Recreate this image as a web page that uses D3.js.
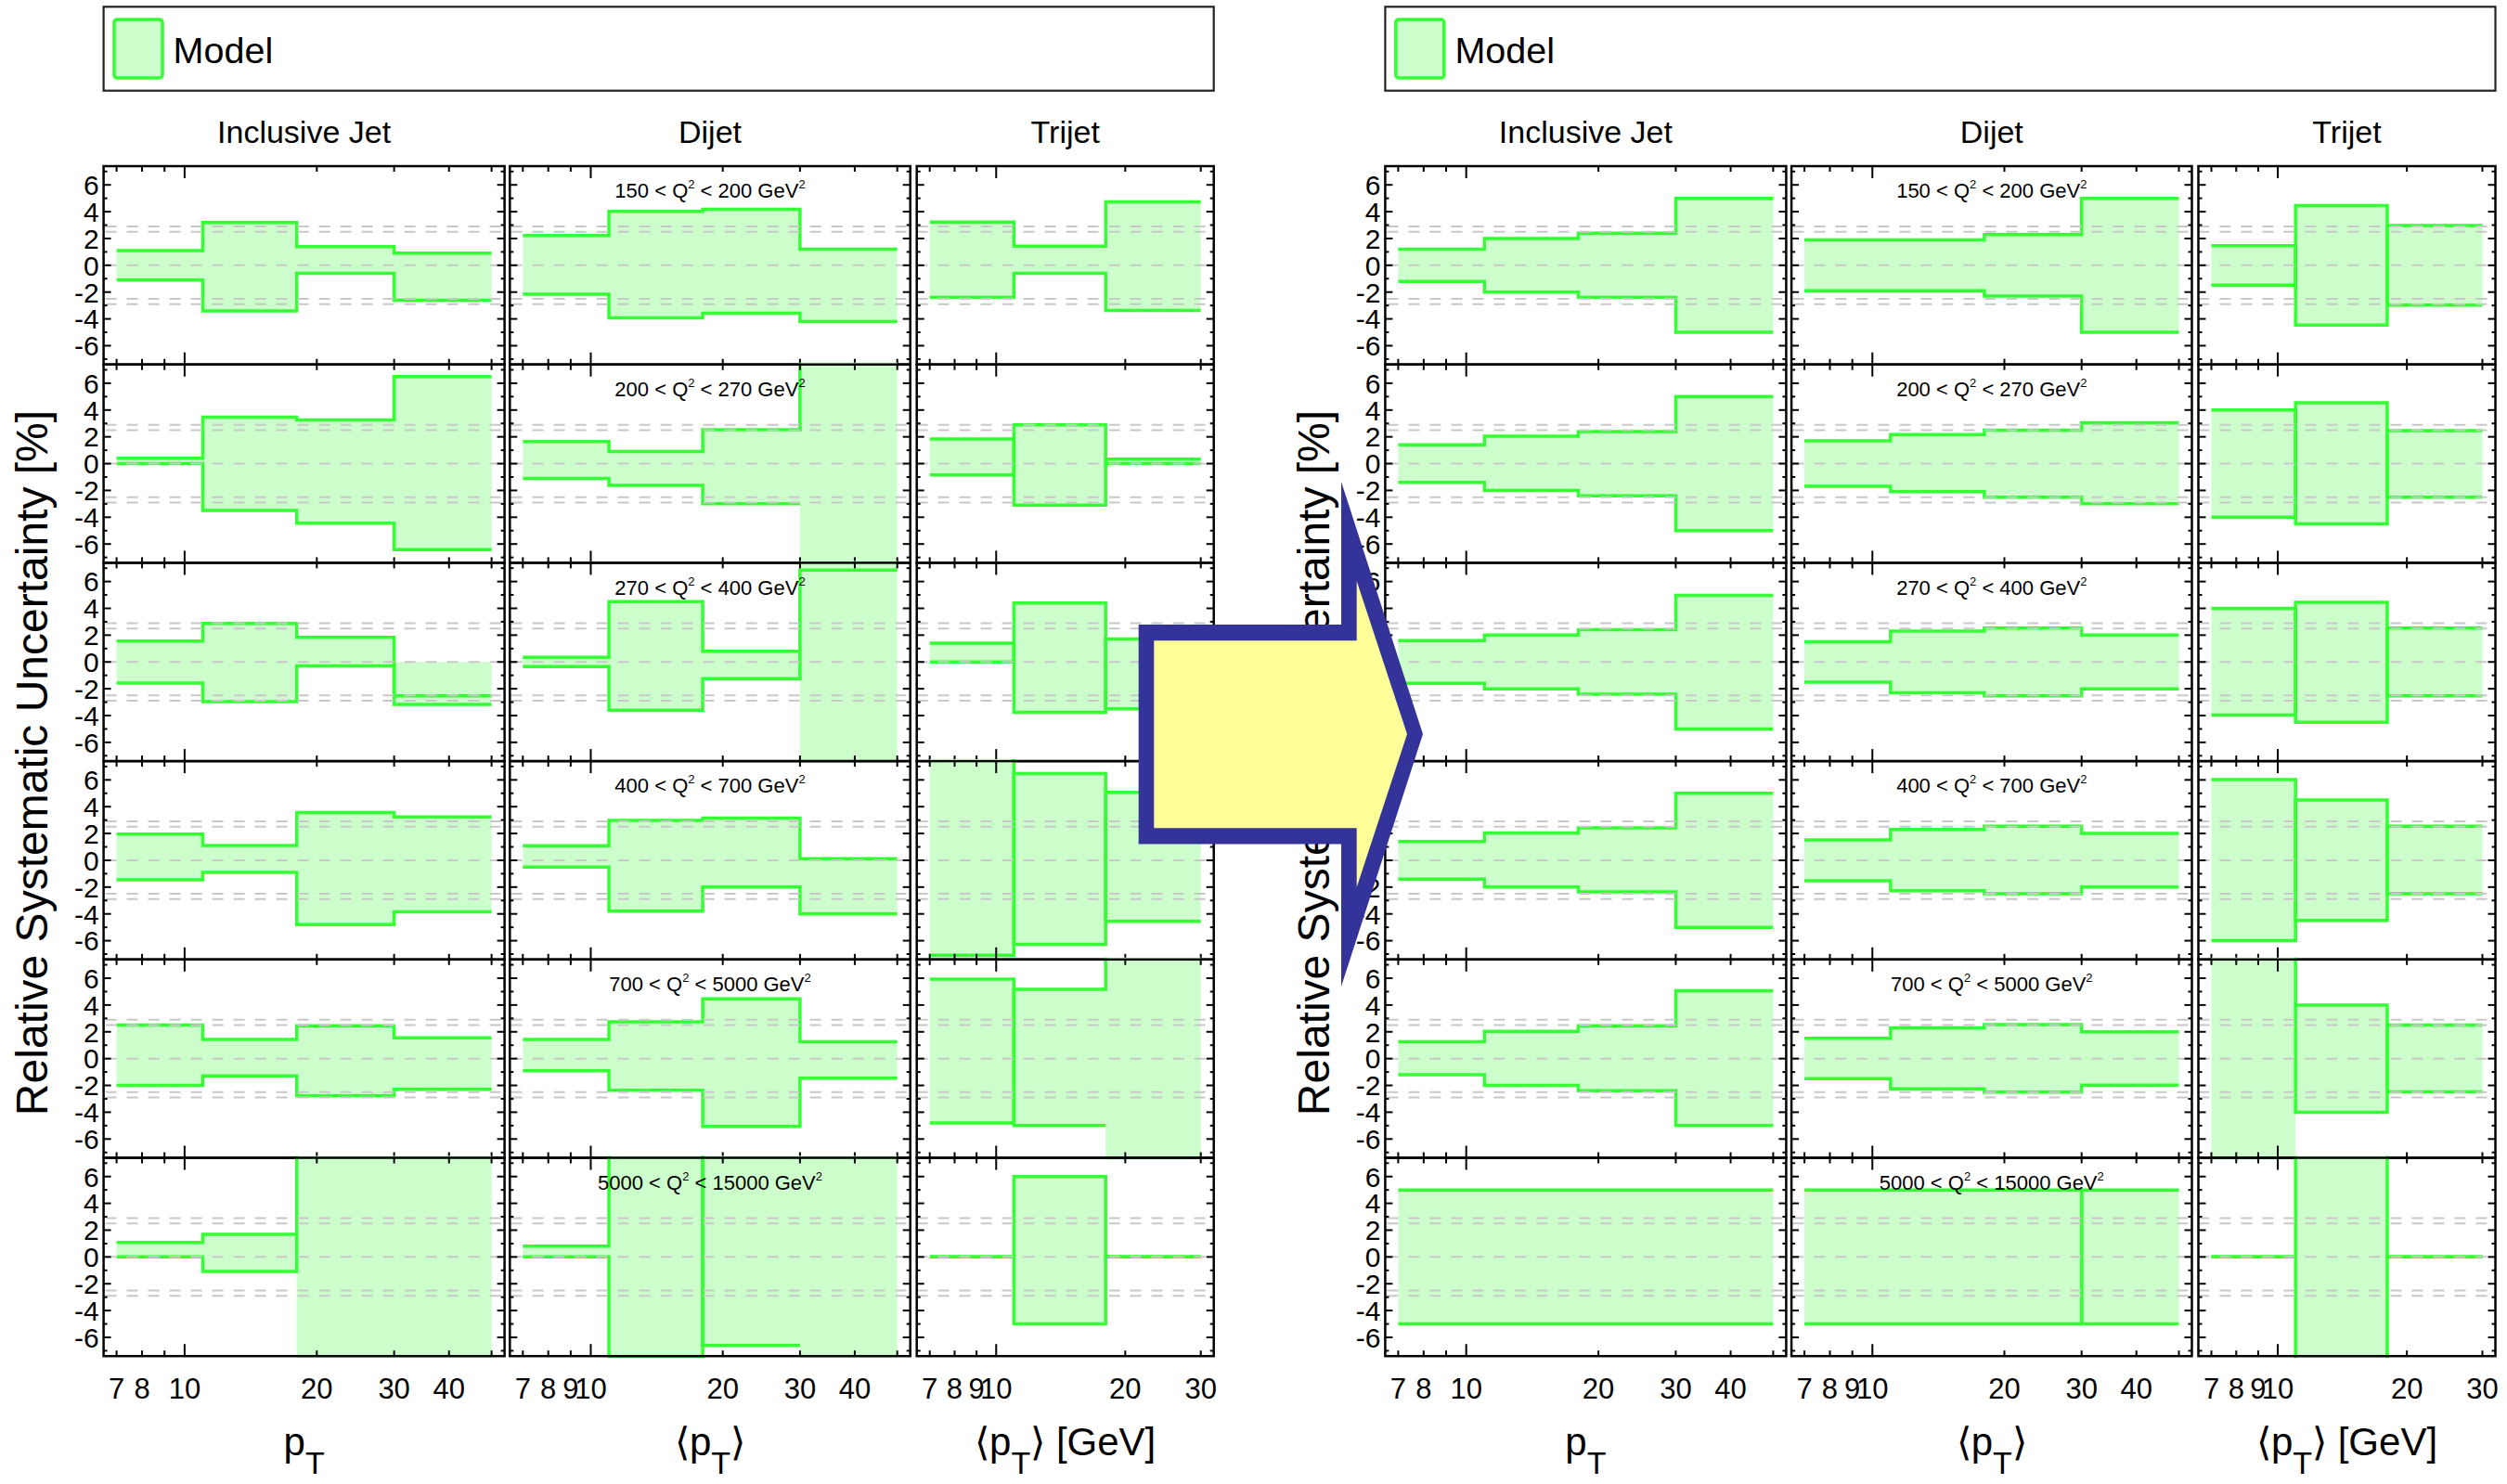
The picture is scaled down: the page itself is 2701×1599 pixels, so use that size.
<!DOCTYPE html>
<html>
<head>
<meta charset="utf-8">
<script src="https://cdn.jsdelivr.net/npm/d3@7"></script>
<style>
  html, body { margin: 0; padding: 0; background: #fff; overflow: hidden; }
</style>
</head>
<body>
<div id="chart"></div>
<script>
// ---- data ----
var columns = ["Inclusive Jet", "Dijet", "Trijet"];
var binEdges = [[7, 11, 18, 30, 50], [7, 11, 18, 30, 50], [7, 11, 18, 30]];
var xTickValues = [[7, 8, 9, 10, 20, 30, 40, 50], [7, 8, 9, 10, 20, 30, 40, 50], [7, 8, 9, 10, 20, 30]];
var xTickLabels = [[7, 8, 10, 20, 30, 40], [7, 8, 9, 10, 20, 30, 40], [7, 8, 9, 10, 20, 30]];
var yTickLabels = [-6, -4, -2, 0, 2, 4, 6];
var refLines = [-2.9, -2.5, 0, 2.5, 2.9];
var q2Low = ["150", "200", "270", "400", "700", "5000"];
var q2High = ["200", "270", "400", "700", "5000", "15000"];

// up / down variations in %, one row per Q2 bin; 20 = off scale, null = not available
var beforeInclA = [
  [1.1, 3.2, 1.4, 0.9], [0.4, 3.46, 3.26, 6.5], [1.55, 2.87, 1.84, -2.53],
  [1.95, 1.1, 3.56, 3.24], [2.5, 1.43, 2.45, 1.55], [0, -1.08, 20, 20]];
var beforeInclB = [
  [-1.1, -3.4, -0.6, -2.6], [0, -3.49, -4.44, -6.42], [-1.58, -2.96, -0.3, -3.16],
  [-1.46, -0.9, -4.8, -3.85], [-2.0, -1.28, -2.77, -2.3], [1.08, 1.69, null, null]];
var beforeDijetA = [
  [2.23, 4.02, 4.18, 1.2], [1.64, 0.9, 2.53, 20], [-0.34, -3.6, -1.24, 6.85],
  [1.08, 2.97, 3.15, 0.12], [1.43, 2.74, 4.46, 1.25], [0.8, 20, -6.6, null]];
var beforeDijetB = [
  [-2.15, -3.92, -3.58, -4.2], [-1.1, -1.62, -3.0, null], [0.34, 4.5, 0.8, null],
  [-0.5, -3.8, -2.0, -4.0], [-0.9, -2.36, -5.07, -1.46], [0, -7.45, 20, 20]];
var beforeTrijetA = [
  [3.23, 1.43, 4.74], [1.84, -3.1, 0.33], [1.4, -3.76, 1.72],
  [20, -6.27, 5.07], [5.93, -4.99, null], [0, 6.0, 0]];
var beforeTrijetB = [
  [-2.4, -0.6, -3.37], [-0.85, 2.9, 0], [0, 4.4, -3.5],
  [-7.08, 6.47, -4.55], [-4.8, 5.17, 20], [0, -5.0, 0]];

var afterInclA = [
  [1.2, 2.0, 2.4, 5.0], [1.4, 2.04, 2.4, 5.0], [1.6, 2.0, 2.4, 4.97],
  [1.4, 2.04, 2.42, 5.0], [1.25, 2.04, 2.45, 5.07], [5.0, 5.0, 5.0, 5.0]];
var afterInclB = [
  [-1.2, -2.0, -2.4, -5.0], [-1.4, -2.0, -2.4, -5.0], [-1.6, -2.0, -2.4, -5.0],
  [-1.4, -2.0, -2.36, -5.0], [-1.2, -2.0, -2.4, -5.0], [-5.0, -5.0, -5.0, -5.0]];
var afterDijetA = [
  [1.9, 1.9, 2.3, 5.0], [1.7, 2.16, 2.5, 3.05], [1.5, 2.3, 2.53, 2.0],
  [1.52, 2.3, 2.54, 2.0], [1.52, 2.3, 2.54, 2.0], [5.0, 5.0, 5.0, -5.0]];
var afterDijetB = [
  [-1.9, -1.9, -2.3, -5.0], [-1.7, -2.1, -2.5, -3.0], [-1.5, -2.3, -2.53, -2.0],
  [-1.52, -2.28, -2.5, -2.0], [-1.5, -2.25, -2.5, -1.98], [-5.0, -5.0, -5.0, 5.0]];
var afterTrijetA = [
  [1.46, -4.46, 2.97], [4.0, -4.5, 2.47], [4.0, -4.5, 2.53],
  [6.03, -4.49, 2.54], [20, -4.0, 2.51], [0, 20, 0]];
var afterTrijetB = [
  [-1.49, 4.46, -2.97], [-4.0, 4.54, -2.5], [-3.97, 4.45, -2.53],
  [-6.0, 4.49, -2.5], [null, 4.0, -2.48], [0, -20, 0]];

// ---- layout ----
var W = 2701, H = 1599;
var halfOffset = [0, 1380.8];
var halfSets = [
  [[beforeInclA, beforeInclB], [beforeDijetA, beforeDijetB], [beforeTrijetA, beforeTrijetB]],
  [[afterInclA, afterInclB], [afterDijetA, afterDijetB], [afterTrijetA, afterTrijetB]]
];
var colLeft = [111.6, 549.3, 987.7];
var colWidth = [432, 431.4, 320];
var rowTop = 179, rowH = 213.7;
var xPad = 14;
var yDomain = [-7.4, 7.4], yClamp = 7.8;
var fillCol = "#ccffcc", lineCol = "#33ff33";
var font = "'Liberation Sans', Arial, Helvetica, sans-serif";

var svg = d3.select("#chart").append("svg")
  .attr("width", W).attr("height", H)
  .style("font-family", font);

var y = d3.scaleLinear().domain(yDomain).range([rowH, 0]);
var cv = function(v) { return Math.max(-yClamp, Math.min(yClamp, v)); };

halfOffset.forEach(function(dx, h) {
  var half = svg.append("g").attr("transform", "translate(" + dx + ",0)");
  var rightEdge = colLeft[2] + colWidth[2];

  /* legend */
  half.append("rect").attr("x", colLeft[0]).attr("y", 7.3)
    .attr("width", rightEdge - colLeft[0]).attr("height", 90.4)
    .attr("fill", "none").attr("stroke", "#222").attr("stroke-width", 2.2);
  half.append("rect").attr("x", 123).attr("y", 21).attr("width", 52).attr("height", 63).attr("rx", 3)
    .attr("fill", fillCol).attr("stroke", lineCol).attr("stroke-width", 3.5);
  half.append("text").attr("x", 186.6).attr("y", 67.7).attr("font-size", 39.5).text("Model");

  /* column titles */
  columns.forEach(function(c, ci) {
    half.append("text").attr("x", colLeft[ci] + colWidth[ci] / 2).attr("y", 154)
      .attr("text-anchor", "middle").attr("font-size", 34).text(c);
  });

  /* y title */
  half.append("text").attr("transform", "translate(51,822) rotate(-90)")
    .attr("text-anchor", "middle").attr("font-size", 48)
    .text("Relative Systematic Uncertainty [%]");

  for (var r = 0; r < 6; r++) {
    var ry = rowTop + r * rowH;
    var rowG = half.append("g").attr("transform", "translate(0," + ry + ")");
    var scales = [];

    columns.forEach(function(c, ci) {
      var w = colWidth[ci], edges = binEdges[ci];
      var A = halfSets[h][ci][0][r], B = halfSets[h][ci][1][r];
      var x = d3.scaleLog().domain([edges[0], edges[edges.length - 1]]).range([xPad, w - xPad]);
      scales.push(x);
      var g = rowG.append("g").attr("transform", "translate(" + colLeft[ci] + ",0)");
      var clipId = "clip-" + h + "-" + ci + "-" + r;
      g.append("clipPath").attr("id", clipId).append("rect")
        .attr("x", 0).attr("y", -2).attr("width", w).attr("height", rowH + 4);
      var body = g.append("g").attr("clip-path", "url(#" + clipId + ")");

      /* band */
      var band = [];
      A.forEach(function(a, i) {
        var b = B[i], lo, hi;
        if (a == null || b == null) { lo = -yClamp; hi = yClamp; }
        else { lo = Math.min(a, b, 0); hi = Math.max(a, b, 0); }
        band.push({e: edges[i], lo: cv(lo), hi: cv(hi)}, {e: edges[i + 1], lo: cv(lo), hi: cv(hi)});
      });
      body.append("path").datum(band)
        .attr("d", d3.area().x(function(d) { return x(d.e); })
          .y0(function(d) { return y(d.lo); }).y1(function(d) { return y(d.hi); }))
        .attr("fill", fillCol);

      /* variation lines */
      [A, B].forEach(function(vals) {
        var pts = [];
        vals.forEach(function(v, i) { pts.push({e: edges[i], v: v}, {e: edges[i + 1], v: v}); });
        body.append("path").datum(pts)
          .attr("d", d3.line().defined(function(d) { return d.v != null; })
            .x(function(d) { return x(d.e); }).y(function(d) { return y(cv(d.v)); }))
          .attr("fill", "none").attr("stroke", lineCol).attr("stroke-width", 3.5)
          .attr("stroke-linejoin", "miter");
      });
    });

    /* dashed reference lines across the row */
    rowG.selectAll(".ref").data(refLines).enter().append("line")
      .attr("x1", colLeft[0] + 2).attr("x2", rightEdge)
      .attr("y1", function(d) { return y(d); }).attr("y2", function(d) { return y(d); })
      .attr("stroke", "#c8c8c8").attr("stroke-width", 2).attr("stroke-dasharray", "12,11");

    columns.forEach(function(c, ci) {
      var w = colWidth[ci], x = scales[ci];
      var g = rowG.append("g").attr("transform", "translate(" + colLeft[ci] + ",0)");
      g.append("rect").attr("width", w).attr("height", rowH)
        .attr("fill", "none").attr("stroke", "#000").attr("stroke-width", 2.5);

      var yt = d3.range(-7, 8);
      g.selectAll(".yl").data(yt).enter().append("line")
        .attr("x1", 0).attr("x2", function(d) { return d % 2 === 0 ? 8 : 4; })
        .attr("y1", y).attr("y2", y).attr("stroke", "#000").attr("stroke-width", 2);
      g.selectAll(".yr").data(yt).enter().append("line")
        .attr("x1", w).attr("x2", function(d) { return d % 2 === 0 ? w - 8 : w - 4; })
        .attr("y1", y).attr("y2", y).attr("stroke", "#000").attr("stroke-width", 2);
      g.selectAll(".xt").data(xTickValues[ci]).enter().append("line")
        .attr("x1", x).attr("x2", x).attr("y1", 0)
        .attr("y2", function(d) { return d === 10 ? 13 : 6; })
        .attr("stroke", "#000").attr("stroke-width", 2);
      g.selectAll(".xb").data(xTickValues[ci]).enter().append("line")
        .attr("x1", x).attr("x2", x).attr("y1", rowH)
        .attr("y2", function(d) { return d === 10 ? rowH - 13 : rowH - 6; })
        .attr("stroke", "#000").attr("stroke-width", 2);

      if (ci === 0) {
        g.selectAll(".ylab").data(yTickLabels).enter().append("text")
          .attr("x", -5).attr("y", y).attr("dy", "0.36em")
          .attr("text-anchor", "end").attr("font-size", 30)
          .text(function(d) { return d; });
      }
      if (ci === 1) {
        var t = g.append("text").attr("x", w / 2).attr("y", 34.3)
          .attr("text-anchor", "middle").attr("font-size", 22);
        t.append("tspan").text(q2Low[r] + " < Q");
        t.append("tspan").attr("dy", -10).attr("font-size", 13).text("2");
        t.append("tspan").attr("dy", 10).text(" < " + q2High[r] + " GeV");
        t.append("tspan").attr("dy", -10).attr("font-size", 13).text("2");
      }
      if (r === 5) {
        g.selectAll(".xlab").data(xTickLabels[ci]).enter().append("text")
          .attr("x", x).attr("y", rowH + 46)
          .attr("text-anchor", "middle").attr("font-size", 31)
          .text(function(d) { return d; });
      }
    });
  }

  /* x axis titles */
  var titlePre = ["", "\u27E8", "\u27E8"], titlePost = ["", "\u27E9", "\u27E9 [GeV]"];
  columns.forEach(function(c, ci) {
    var t = half.append("text").attr("x", colLeft[ci] + colWidth[ci] / 2).attr("y", 1568)
      .attr("text-anchor", "middle").attr("font-size", 42);
    t.append("tspan").text(titlePre[ci] + "p");
    t.append("tspan").attr("dy", 20).attr("font-size", 34).text("T");
    t.append("tspan").attr("dy", -20).text(titlePost[ci]);
  });
});

/* arrow: before -> after */
var arrowOuter = [[1226.7, 673], [1445, 673], [1445, 519], [1533, 791], [1445, 1063], [1445, 909.5], [1226.7, 909.5]];
var arrowInner = [[1243.3, 690.2], [1461.7, 690.2], [1461.7, 626], [1516, 791], [1461.7, 956], [1461.7, 892.3], [1243.3, 892.3]];
svg.append("polygon").attr("points", arrowOuter.join(" ")).attr("fill", "#333399");
svg.append("polygon").attr("points", arrowInner.join(" ")).attr("fill", "#ffff99");
</script>
</body>
</html>
